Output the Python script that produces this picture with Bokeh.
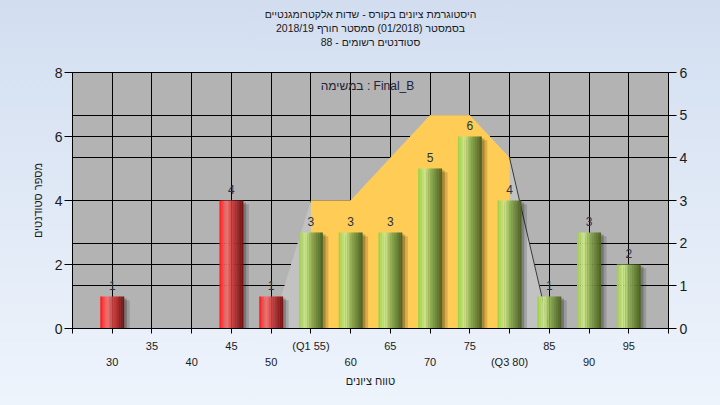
from bokeh.plotting import figure
from bokeh.models import (Range1d, LinearAxis, FixedTicker, Grid, Title,
                          ColumnDataSource, GlobalInlineStyleSheet)
from bokeh.core.properties import value
from bokeh.embed import file_html
from bokeh.resources import INLINE

# ---------------- data ----------------
title_lines = ["היסטוגרמת ציונים בקורס - שדות אלקטרומגנטיים",
               "בסמסטר (01/2018) סמסטר חורף 2018/19",
               "סטודנטים רשומים - 88"]
task_text = "במשימה : Final_B"
x_title = "טווח ציונים"
y_title = "מספר סטודנטים"

grade_bins = [30, 35, 40, 45, 50, 55, 60, 65, 70, 75, 80, 85, 90, 95]
counts = [1, 0, 0, 4, 1, 3, 3, 3, 5, 6, 4, 1, 3, 2]
pass_grade = 55
q1, q3 = 55, 80

curve_x = [50, 55, 60, 65, 70, 75, 80, 85]
curve_y = [0, 3, 3, 4, 5, 5, 4, 0]

upper_ticks = [35, 45, 55, 65, 75, 85, 95]
upper_labels = ["35", "45", "(Q1 55)", "65", "75", "85", "95"]
lower_ticks = [30, 40, 50, 60, 70, 80, 90]
lower_labels = ["30", "40", "50", "60", "70", "(Q3 80)", "90"]
left_ticks = [0, 2, 4, 6, 8]
right_ticks = [0, 1, 2, 3, 4, 5, 6]

# ---------------- style ----------------
FONT = "Liberation Sans"
TXT = "#1a1a1a"
step = grade_bins[1] - grade_bins[0]
edges = [grade_bins[0] - step] + grade_bins + [grade_bins[-1] + step]

p = figure(width=704, height=389, output_backend="svg", toolbar_location=None,
           x_range=Range1d(edges[0], edges[-1]), y_range=Range1d(left_ticks[0], left_ticks[-1]),
           x_axis_location=None, y_axis_location=None,
           min_border_left=72, min_border_right=36, min_border_top=72, min_border_bottom=60)
p.extra_y_ranges = {"right": Range1d(right_ticks[0], right_ticks[-1])}
p.background_fill_color = "#b3b3b3"
p.border_fill_color = None
p.outline_line_color = "black"
p.grid.visible = False
p.stylesheets = [GlobalInlineStyleSheet(
    css="html{min-height:100%;background:linear-gradient(#d2def0,#eef4fc);}")]

# titles: three centred lines stacked above a blank spacer (outermost is p.title)
def style_title(t, standoff):
    t.align = "center"
    t.text_font = FONT
    t.text_font_size = "10.5px"
    t.text_font_style = "normal"
    t.text_color = TXT
    t.text_line_height = 0.82
    t.standoff = standoff

p.title.text = title_lines[0]
style_title(p.title, 0)
for txt, so in [(" ", 11), (title_lines[2], 0), (title_lines[1], 0)]:
    t = Title(text=txt)
    style_title(t, so)
    p.add_layout(t, "above")

# grids
p.add_layout(Grid(dimension=0, ticker=FixedTicker(ticks=edges), grid_line_color="black"))
p.add_layout(Grid(dimension=1, ticker=FixedTicker(ticks=left_ticks), grid_line_color="black"))
p.add_layout(Grid(dimension=1, ticker=FixedTicker(ticks=right_ticks), grid_line_color="black",
                  y_range_name="right"))

# axes
def style_axis(ax, size):
    ax.axis_line_color = "black"
    ax.major_tick_line_color = "black"
    ax.minor_tick_line_color = None
    ax.major_tick_in = 0
    ax.minor_tick_out = 0
    ax.minor_tick_in = 0
    ax.major_label_text_font = FONT
    ax.major_label_text_font_size = size
    ax.major_label_text_color = TXT
    ax.axis_label_text_font = FONT
    ax.axis_label_text_font_size = "11px"
    ax.axis_label_text_font_style = "normal"
    ax.axis_label_text_color = TXT

upper_map = {t: "" for t in edges}
upper_map.update(dict(zip(upper_ticks, upper_labels)))
ax_up = LinearAxis(ticker=FixedTicker(ticks=edges), major_label_overrides=upper_map)
style_axis(ax_up, "11px")
ax_up.major_tick_out = 5
ax_up.major_label_standoff = 6
p.add_layout(ax_up, "below")

ax_lo = LinearAxis(ticker=FixedTicker(ticks=lower_ticks),
                   major_label_overrides=dict(zip(lower_ticks, lower_labels)),
                   axis_label=x_title)
style_axis(ax_lo, "11px")
ax_lo.axis_line_color = None
ax_lo.major_tick_line_color = None
ax_lo.major_tick_out = 0
ax_lo.major_label_standoff = 1
ax_lo.axis_label_standoff = 4
p.add_layout(ax_lo, "below")

ax_l = LinearAxis(ticker=FixedTicker(ticks=left_ticks), axis_label=y_title)
style_axis(ax_l, "14px")
ax_l.major_tick_out = 8
ax_l.major_label_standoff = 2
ax_l.axis_label_standoff = 8
p.add_layout(ax_l, "left")

ax_r = LinearAxis(ticker=FixedTicker(ticks=right_ticks), y_range_name="right")
style_axis(ax_r, "14px")
ax_r.major_tick_out = 8
ax_r.major_label_standoff = 3
p.add_layout(ax_r, "right")

# distribution area (right axis)
p.patch(curve_x, curve_y, y_range_name="right", fill_color="#c2c2c2", line_color=None)
iq = [(x, y) for x, y in zip(curve_x, curve_y) if q1 <= x <= q3]
p.patch([q1] + [x for x, _ in iq] + [q3], [0] + [y for _, y in iq] + [0],
        y_range_name="right", fill_color="#ffcc55", line_color=None)
tail = [(x, y) for x, y in zip(curve_x, curve_y) if x >= q3]
p.line([x for x, _ in tail], [y for _, y in tail], y_range_name="right",
       line_color="#3a3a3a", line_width=1)

# bars
bar_w = 3.0
nz = [(b, c) for b, c in zip(grade_bins, counts) if c > 0]
red = [(b, c) for b, c in nz if b < pass_grade]
green = [(b, c) for b, c in nz if b >= pass_grade]

# shadows
for dx, dtop, a in [(0.35, 0.06, 0.22), (0.7, 0.12, 0.15)]:
    p.vbar(x=[b + dx for b, _ in nz], top=[c - dtop for _, c in nz], width=bar_w,
           fill_color="black", fill_alpha=a, line_color=None)

red_stops = [(0.0, (255, 24, 24)), (0.3, (242, 118, 118)), (0.55, (205, 62, 62)), (1.0, (112, 14, 14))]
green_stops = [(0.0, (158, 206, 64)), (0.28, (206, 232, 144)), (0.55, (140, 172, 80)), (1.0, (74, 94, 34))]

def lerp(stops, f):
    for (f0, c0), (f1, c1) in zip(stops[:-1], stops[1:]):
        if f0 <= f <= f1:
            t = (f - f0) / (f1 - f0)
            return "#%02x%02x%02x" % tuple(int(round(a + (b - a) * t)) for a, b in zip(c0, c1))
    return "#%02x%02x%02x" % stops[-1][1]

n = 14
for k in range(n):
    f = (k + 0.5) / n
    off = -bar_w / 2 + f * bar_w
    for group, stops in [(red, red_stops), (green, green_stops)]:
        p.vbar(x=[b + off for b, _ in group], top=[c for _, c in group],
               width=bar_w / n * 1.08, fill_color=lerp(stops, f), line_color=None)

# value labels
src = ColumnDataSource(dict(x=[b for b, _ in nz], y=[c for _, c in nz], t=[str(c) for _, c in nz]))
p.text(x="x", y="y", text="t", source=src, text_align="center", text_baseline="bottom",
       y_offset=-7, text_font=value(FONT), text_font_size="12px", text_color="#2a3344")

# task label
p.text(x=[(edges[0] + edges[-1]) / 2], y=[left_ticks[-1]], text=[task_text],
       text_align="center", text_baseline="middle", x_offset=-3, y_offset=13,
       text_font=value(FONT), text_font_size="12px", text_color="#22223a")

open("out.html", "w").write(file_html(p, INLINE))
